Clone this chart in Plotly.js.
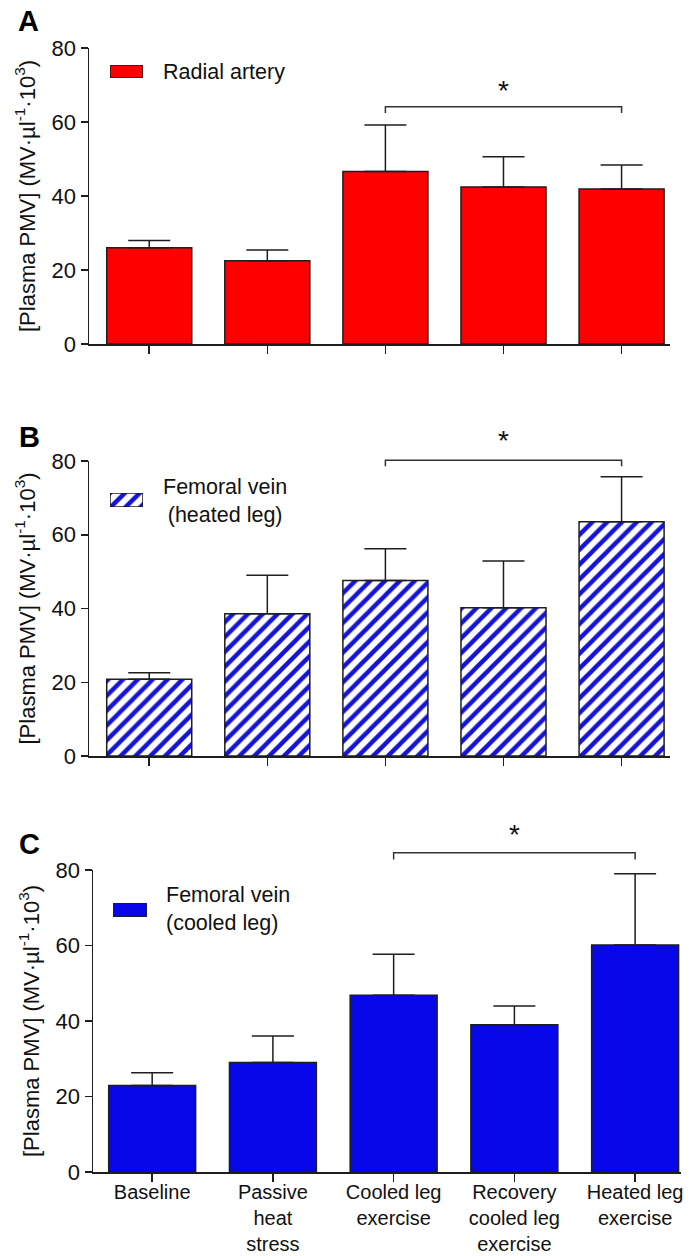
<!DOCTYPE html>
<html><head><meta charset="utf-8">
<script src="https://cdn.plot.ly/plotly-3.0.1.min.js"></script>
<style>html,body{margin:0;padding:0;background:#fff;}#chart{width:689px;height:1256px;}</style>
</head><body><div id="chart"></div>
<script>
// ---- data ----
const categories = ["Baseline", "Passive<br>heat<br>stress", "Cooled leg<br>exercise", "Recovery<br>cooled leg<br>exercise", "Heated leg<br>exercise"];
const radialMean = [26.0, 22.5, 46.6, 42.4, 41.9];
const radialSem  = [2.0, 2.9, 12.6, 8.2, 6.5];
const heatedMean = [20.8, 38.6, 47.6, 40.2, 63.5];
const heatedSem  = [1.8, 10.4, 8.6, 12.7, 12.2];
const cooledMean = [22.9, 29.0, 46.8, 39.0, 60.1];
const cooledSem  = [3.4, 7.0, 10.9, 5.0, 18.9];
const yTicks = [0, 20, 40, 60, 80];
const seriesNames = ["Radial artery", "Femoral vein<br>(heated leg)", "Femoral vein<br>(cooled leg)"];
const panelLetters = ["A", "B", "C"];
// significance comparisons: [from index, to index, bracket level, end level, star level]
const sigA = [2, 4, 64.1, 62.4, 68.5];
const sigB = [2, 4, 80.2, 78.6, 85.5];
const sigC = [2, 4, 84.6, 82.8, 89.5];

// ---- layout helpers ----
const W = 689, H = 1256;
const FONT = "Liberation Sans, Arial, Helvetica, sans-serif";
const INK = "#1e1e1e";
const px = v => v / W;
const py = v => (H - v) / H;
const yRange = [0, 80];
const xRangeAB = [-0.51, 4.41];
const xRangeC = [-0.49, 4.38];
const xs = categories.map((_, i) => i);
const zeros = categories.map(() => 0);

function yAxis(top, bottom) {
  return {
    domain: [py(bottom), py(top)], range: yRange, tickvals: yTicks,
    showline: true, linecolor: INK, linewidth: 1.5, ticks: "outside", ticklen: 7,
    tickwidth: 1.5, tickcolor: INK, showgrid: false, zeroline: false,
    tickfont: {family: FONT, size: 22, color: "#111"},
    title: {text: "[Plasma PMV] (MV·µl<sup>-1</sup>·10<sup>3</sup>)", font: {family: FONT, size: 22, color: "#111"}, standoff: 10},
    fixedrange: true
  };
}
function xAxis(left, right, range, labels) {
  return {
    domain: [px(left), px(right)], range: range, tickvals: xs, ticktext: categories,
    showticklabels: labels, showline: true, linecolor: INK, linewidth: 1.5,
    ticks: "outside", ticklen: 8, tickwidth: 1.5, tickcolor: INK,
    showgrid: false, zeroline: false, tickangle: 0, ticklabelstandoff: -7,
    tickfont: {family: FONT, size: 20, color: "#111"}, fixedrange: true
  };
}
function barTrace(mean, sem, xa, ya, marker) {
  return {
    type: "bar", x: xs, y: mean, xaxis: xa, yaxis: ya, width: 0.72,
    marker: marker, showlegend: false, hoverinfo: "skip",
    error_y: {type: "data", symmetric: false, array: sem, arrayminus: zeros,
              color: INK, thickness: 1.5, width: 21, visible: true}
  };
}
function swatch(xa, ya, marker) {
  return {type: "bar", x: [0], y: [1], xaxis: xa, yaxis: ya, width: 1,
          marker: marker, showlegend: false, hoverinfo: "skip"};
}
function hidden(domain, range) {
  return {domain: domain, range: range, visible: false, fixedrange: true};
}

const redMarker = {color: "#ff0000", line: {color: INK, width: 1.5}};
const stripeMarker = {color: "#ffffff", line: {color: INK, width: 1.5},
  pattern: {shape: "/", size: 10.5, solidity: 0.42, fgcolor: "#1414d6", bgcolor: "#ffffff", fillmode: "replace"}};
const blueMarker = {color: "#0707ea", line: {color: INK, width: 1.5}};

const data = [
  barTrace(radialMean, radialSem, "x", "y", redMarker),
  barTrace(heatedMean, heatedSem, "x2", "y2", stripeMarker),
  barTrace(cooledMean, cooledSem, "x3", "y3", blueMarker),
  swatch("x4", "y4", redMarker),
  swatch("x5", "y5", stripeMarker),
  swatch("x6", "y6", blueMarker)
];

function frac(v, r) { return (v - r[0]) / (r[1] - r[0]); }
function bracket(sig, xn, yn, xr) {
  const x0 = frac(sig[0], xr), x1 = frac(sig[1], xr);
  const yTop = frac(sig[2], yRange), yEnd = frac(sig[3], yRange);
  return {type: "path", xref: xn + " domain", yref: yn + " domain",
    path: `M${x0},${yEnd} L${x0},${yTop} L${x1},${yTop} L${x1},${yEnd}`,
    line: {color: "#333", width: 1.5}};
}
function star(sig, xn, yn, xr) {
  return {xref: xn + " domain", yref: yn + " domain",
    x: frac((sig[0] + sig[1]) / 2, xr), y: frac(sig[4], yRange),
    text: "*", showarrow: false, xanchor: "center", yanchor: "middle",
    font: {family: FONT, size: 28, color: "#111"}};
}
function letter(t, x, y) {
  return {xref: "paper", yref: "paper", x: px(x), y: py(y), text: "<b>" + t + "</b>",
    showarrow: false, xanchor: "center", yanchor: "middle",
    font: {family: FONT, size: 29, color: "#000"}};
}
function legendText(t, x, y, xanchor, align) {
  return {xref: "paper", yref: "paper", x: px(x), y: py(y), text: t, showarrow: false,
    xanchor: xanchor, yanchor: "middle", align: align,
    font: {family: FONT, size: 21.5, color: "#111"}};
}

const layout = {
  width: W, height: H, margin: {l: 0, r: 0, t: 0, b: 0},
  paper_bgcolor: "#fff", plot_bgcolor: "rgba(0,0,0,0)", bargap: 0,
  showlegend: false,
  xaxis: xAxis(89, 670, xRangeAB, false), yaxis: yAxis(48, 344),
  xaxis2: xAxis(89, 670, xRangeAB, false), yaxis2: yAxis(461, 756),
  xaxis3: xAxis(93, 681, xRangeC, true), yaxis3: yAxis(870, 1172),
  xaxis4: hidden([px(110), px(143)], [-0.5, 0.5]), yaxis4: hidden([py(78), py(65)], [0, 1]),
  xaxis5: hidden([px(110), px(143)], [-0.5, 0.5]), yaxis5: hidden([py(507), py(493)], [0, 1]),
  xaxis6: hidden([px(113), px(147)], [-0.5, 0.5]), yaxis6: hidden([py(917), py(903)], [0, 1]),
  shapes: [
    bracket(sigA, "x", "y", xRangeAB),
    bracket(sigB, "x2", "y2", xRangeAB),
    bracket(sigC, "x3", "y3", xRangeC)
  ],
  annotations: [
    star(sigA, "x", "y", xRangeAB),
    star(sigB, "x2", "y2", xRangeAB),
    star(sigC, "x3", "y3", xRangeC),
    letter(panelLetters[0], 28, 21),
    letter(panelLetters[1], 29, 437),
    letter(panelLetters[2], 29, 844),
    legendText(seriesNames[0], 161, 72, "left", "left"),
    legendText(seriesNames[1], 225, 501, "center", "center"),
    legendText(seriesNames[2], 164, 909, "left", "left")
  ]
};
layout.xaxis4.anchor = "y4"; layout.yaxis4.anchor = "x4";
layout.xaxis5.anchor = "y5"; layout.yaxis5.anchor = "x5";
layout.xaxis6.anchor = "y6"; layout.yaxis6.anchor = "x6";
layout.xaxis.anchor = "y"; layout.yaxis.anchor = "x";
layout.xaxis2.anchor = "y2"; layout.yaxis2.anchor = "x2";
layout.xaxis3.anchor = "y3"; layout.yaxis3.anchor = "x3";

Plotly.newPlot("chart", data, layout, {staticPlot: true, displayModeBar: false});
</script>
</body></html>
